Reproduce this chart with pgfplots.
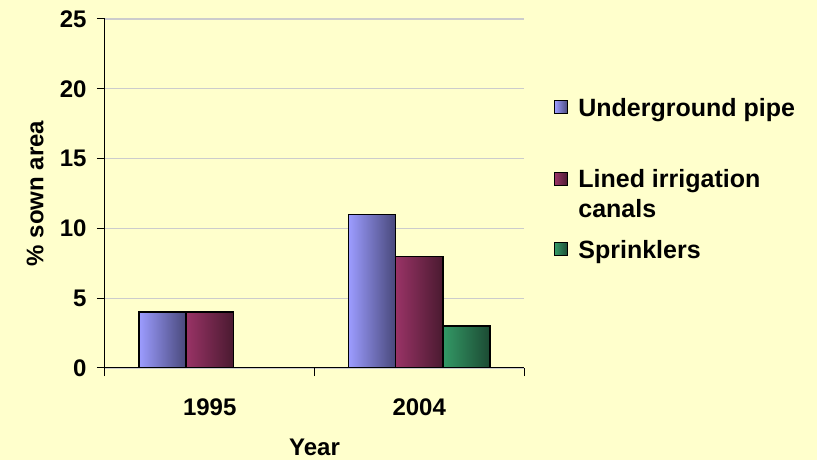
\documentclass[border=0pt]{standalone}
\usepackage{pgfplots}
\pgfplotsset{compat=1.18}
\usepackage{fontspec}
\setmainfont{Liberation Sans}
\definecolor{bg}{HTML}{FFFFCC}
\definecolor{pipeL}{HTML}{9C9CFF}
\definecolor{pipeR}{HTML}{48487A}
\definecolor{canalL}{HTML}{993366}
\definecolor{canalR}{HTML}{4A1A30}
\definecolor{sprL}{HTML}{339966}
\definecolor{sprR}{HTML}{1C4A33}
\pgfplotsset{
    pipe/.style={draw=black, line width=1.5pt, left color=pipeL, right color=pipeR, bar shift=-0.225},
    canal/.style={draw=black, line width=1.5pt, left color=canalL, right color=canalR, bar shift=0},
    spr/.style={draw=black, line width=1.5pt, left color=sprL, right color=sprR, bar shift=0.225},
}

\begin{document}
\begin{tikzpicture}
\useasboundingbox (-105pt,-92pt) rectangle (712pt,368pt);
\fill[bg] (-105pt,-92pt) rectangle (712pt,368pt);
\begin{axis}[
    at={(0pt,0pt)}, anchor=south west,
    scale only axis, width=419pt, height=349pt,
    xmin=-0.5, xmax=1.5, ymin=0, ymax=25,
    ytick={0,5,...,25},
    axis lines*=left,
    axis line style={line width=1pt},
    ymajorgrids, grid style={draw=black!20, line width=1.3pt},
    tick align=outside,
    major tick length=8pt,
    tick style={black, line width=1pt},
    xtick={-0.5,0.5,1.5}, xticklabels={},
    extra x ticks={0,1}, extra x tick labels={1995,2004},
    extra x tick style={major tick length=0pt, grid=none,
        xticklabel style={yshift=-27pt}},
    /pgf/number format/assume math mode=true,
    ticklabel style={font=\fontsize{24}{28}\selectfont\bfseries},
    yticklabel style={xshift=-7pt},
    label style={font=\fontsize{24}{28}\selectfont\bfseries},
    xlabel={Year}, ylabel={\% sown area},
    xlabel style={at={(axis description cs:0.5,-0.226)}, anchor=center},
    ylabel style={at={(axis description cs:-0.167,0.5)}, anchor=center, rotate=0},
    ybar, bar width=0.225,
    legend image code/.code={\draw[#1, line width=1.2pt] (0pt,2.5pt) rectangle (13pt,15.5pt);},
    legend style={at={(axis description cs:1.0716,0.774)}, anchor=north west,
        draw=none, fill=none, inner sep=0pt, row sep=21pt,
        font=\fontsize{25}{30}\selectfont\bfseries,
        cells={anchor=base west},
        nodes={inner sep=0pt}},
]
\addplot[pipe] coordinates {(0,4)};
\addplot[pipe, forget plot] coordinates {(1,11)};
\addplot[canal] coordinates {(0,4)};
\addplot[canal, forget plot] coordinates {(1,8)};
\addplot[spr] coordinates {(1,3)};
\addlegendentry{\hspace*{10pt}Underground pipe}
\addlegendentry{\vtop{\hbox{\hspace*{10pt}\rule{0pt}{49pt}Lined irrigation}\hbox{\hspace*{10pt}canals}}}
\addlegendentry{\hspace*{10pt}\rule{0pt}{48pt}Sprinklers}
\end{axis}
\end{tikzpicture}
\end{document}
